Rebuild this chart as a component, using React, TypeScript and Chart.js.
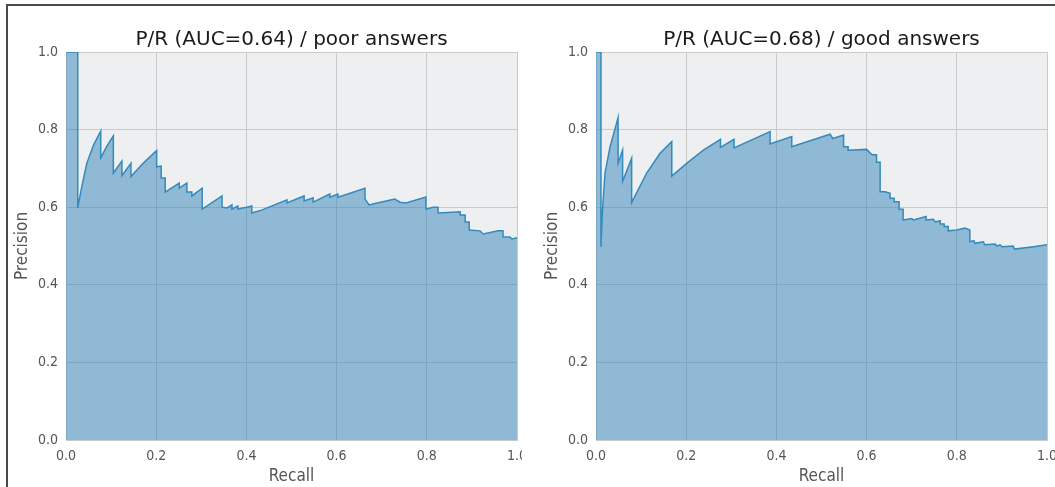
import React, { useEffect, useRef } from "react";
import { Chart, registerables } from "chart.js";

Chart.register(...registerables);

// Precision/recall curve for the "poor answers" classifier
const poorRecall = [
  0, 0.026, 0.026, 0.035, 0.046, 0.061, 0.077, 0.077, 0.09, 0.105, 0.105, 0.124, 0.124, 0.144, 0.144,
  0.171, 0.201, 0.201, 0.211, 0.211, 0.22, 0.22, 0.251, 0.251, 0.268, 0.268, 0.279, 0.279, 0.302, 0.302,
  0.346, 0.346, 0.357, 0.368, 0.368, 0.381, 0.381, 0.392, 0.401, 0.412, 0.412, 0.435, 0.49, 0.49, 0.528,
  0.528, 0.548, 0.548, 0.585, 0.585, 0.603, 0.603, 0.663, 0.663, 0.672, 0.69, 0.729, 0.741, 0.754, 0.798,
  0.798, 0.814, 0.825, 0.825, 0.874, 0.874, 0.885, 0.885, 0.894, 0.894, 0.918, 0.925, 0.958, 0.969, 0.969,
  0.984, 0.989, 1.0,
];
const poorPrecision = [
  1.0, 1.0, 0.598, 0.653, 0.713, 0.76, 0.796, 0.727, 0.756, 0.784, 0.688, 0.719, 0.681, 0.713, 0.679,
  0.713, 0.746, 0.704, 0.706, 0.675, 0.675, 0.639, 0.662, 0.649, 0.662, 0.639, 0.639, 0.629, 0.649, 0.595,
  0.629, 0.6, 0.598, 0.606, 0.595, 0.603, 0.595, 0.598, 0.6, 0.603, 0.585, 0.593, 0.619, 0.611, 0.629,
  0.616, 0.624, 0.613, 0.634, 0.626, 0.634, 0.626, 0.649, 0.621, 0.606, 0.611, 0.621, 0.613, 0.611, 0.626,
  0.595, 0.6, 0.6, 0.585, 0.588, 0.58, 0.58, 0.562, 0.562, 0.541, 0.539, 0.531, 0.539, 0.539, 0.523,
  0.523, 0.518, 0.521,
];

// Precision/recall curve for the "good answers" classifier
const goodRecall = [
  0, 0.011, 0.011, 0.014, 0.02, 0.031, 0.049, 0.049, 0.059, 0.059, 0.079, 0.079, 0.112, 0.142, 0.168,
  0.168, 0.201, 0.238, 0.276, 0.276, 0.306, 0.306, 0.386, 0.386, 0.434, 0.434, 0.519, 0.525, 0.549, 0.549,
  0.559, 0.559, 0.6, 0.612, 0.622, 0.622, 0.63, 0.63, 0.641, 0.652, 0.652, 0.661, 0.661, 0.672, 0.672,
  0.681, 0.681, 0.7, 0.704, 0.732, 0.732, 0.748, 0.752, 0.763, 0.763, 0.772, 0.772, 0.781, 0.781, 0.8,
  0.818, 0.829, 0.829, 0.838, 0.84, 0.859, 0.862, 0.885, 0.889, 0.896, 0.9, 0.925, 0.928, 0.97, 1.0,
];
const goodPrecision = [
  1.0, 1.0, 0.498, 0.585, 0.688, 0.755, 0.831, 0.713, 0.747, 0.666, 0.726, 0.612, 0.687, 0.739, 0.769,
  0.68, 0.713, 0.747, 0.775, 0.754, 0.775, 0.753, 0.795, 0.763, 0.782, 0.756, 0.788, 0.777, 0.786, 0.756,
  0.756, 0.747, 0.749, 0.735, 0.735, 0.716, 0.716, 0.64, 0.64, 0.636, 0.623, 0.623, 0.614, 0.614, 0.595,
  0.595, 0.567, 0.571, 0.567, 0.576, 0.567, 0.569, 0.562, 0.565, 0.557, 0.557, 0.55, 0.55, 0.539, 0.541,
  0.546, 0.541, 0.511, 0.514, 0.507, 0.511, 0.503, 0.505, 0.5, 0.503, 0.498, 0.5, 0.492, 0.498, 0.503,
];

const axisTicks = [0, 0.2, 0.4, 0.6, 0.8, 1.0];

const panels = [
  { title: "P/R (AUC=0.64) / poor answers", recall: poorRecall, precision: poorPrecision },
  { title: "P/R (AUC=0.68) / good answers", recall: goodRecall, precision: goodPrecision },
];

const narrowFont = "'DejaVu Sans Condensed', 'Liberation Sans Narrow', 'DejaVu Sans', sans-serif";
const wideFont = "'DejaVu Sans', 'Noto Sans', sans-serif";

const plotBackground = {
  id: "plotBackground",
  beforeDraw(chart: any) {
    const { ctx, chartArea } = chart;
    ctx.save();
    ctx.fillStyle = "#eeeff0";
    ctx.fillRect(chartArea.left, chartArea.top, chartArea.right - chartArea.left, chartArea.bottom - chartArea.top);
    ctx.restore();
  },
};

function PRChart({
  title,
  recall,
  precision,
  width,
  rightPad,
}: {
  title: string;
  recall: number[];
  precision: number[];
  width: number;
  rightPad: number;
}) {
  const ref = useRef<HTMLCanvasElement | null>(null);
  useEffect(() => {
    if (!ref.current) return;
    const points = recall.map((r, i) => ({ x: r, y: precision[i] }));
    const chart = new Chart(ref.current, {
      type: "line",
      data: {
        datasets: [
          {
            data: points,
            borderColor: "#348abd",
            borderWidth: 1.5,
            backgroundColor: "rgba(48,132,186,0.5)",
            fill: "origin",
            pointRadius: 0,
            tension: 0,
          },
        ],
      },
      options: {
        animation: false,
        responsive: false,
        maintainAspectRatio: false,
        devicePixelRatio: 1,
        layout: { padding: { top: 0, right: rightPad, bottom: 0, left: 0 } },
        plugins: {
          legend: { display: false },
          tooltip: { enabled: false },
          title: {
            display: true,
            text: title,
            fullSize: false,
            color: "#1a1a1a",
            font: { family: wideFont, size: 20, weight: "normal" },
            padding: { top: 28, bottom: 0 },
          },
        },
        scales: {
          x: {
            type: "linear",
            min: 0,
            max: 1,
            afterBuildTicks(scale: any) {
              scale.ticks = axisTicks.map((v) => ({ value: v }));
            },
            afterFit(scale: any) {
              scale.height = 47;
              scale.paddingLeft = 0;
              scale.paddingRight = 0;
            },
            grid: { color: "#c9c9c9", lineWidth: 1, drawTicks: false },
            border: { color: "#cccccc" },
            ticks: {
              color: "#555555",
              font: { family: narrowFont, size: 14 },
              padding: 8,
              maxRotation: 0,
              autoSkip: false,
              callback: (v: any) => Number(v).toFixed(1),
            },
            title: {
              display: true,
              text: "Recall",
              color: "#555555",
              font: { family: narrowFont, size: 17 },
              padding: { top: 2, bottom: 0 },
            },
          },
          y: {
            type: "linear",
            min: 0,
            max: 1,
            afterBuildTicks(scale: any) {
              scale.ticks = axisTicks.map((v) => ({ value: v }));
            },
            afterFit(scale: any) {
              scale.width = 66;
            },
            grid: { color: "#c9c9c9", lineWidth: 1, drawTicks: false },
            border: { color: "#cccccc" },
            ticks: {
              color: "#555555",
              font: { family: narrowFont, size: 14 },
              padding: 8,
              autoSkip: false,
              callback: (v: any) => Number(v).toFixed(1),
            },
            title: {
              display: true,
              text: "Precision",
              color: "#555555",
              font: { family: narrowFont, size: 17 },
              padding: { top: 12, bottom: 0 },
            },
          },
        },
      },
      plugins: [plotBackground],
    } as any);
    return () => chart.destroy();
  }, [title, recall, precision, width, rightPad]);
  return <canvas ref={ref} width={width} height={487} style={{ display: "block", width, height: 487 }} />;
}

export default function App() {
  return (
    <div style={{ position: "fixed", left: 0, top: 0, width: 1055, height: 487, background: "#ffffff", overflow: "hidden" }}>
      <div style={{ position: "absolute", left: 0, top: 0, width: 522, height: 487, overflow: "hidden" }}>
        <PRChart {...panels[0]} width={522} rightPad={5} />
      </div>
      <div style={{ position: "absolute", left: 530, top: 0, width: 525, height: 487, overflow: "hidden" }}>
        <PRChart {...panels[1]} width={525} rightPad={8} />
      </div>
      <div
        style={{
          position: "absolute",
          left: 6,
          top: 4,
          width: 1100,
          height: 600,
          borderLeft: "2px solid #4a4a4a",
          borderTop: "2px solid #4a4a4a",
          pointerEvents: "none",
        }}
      />
    </div>
  );
}
